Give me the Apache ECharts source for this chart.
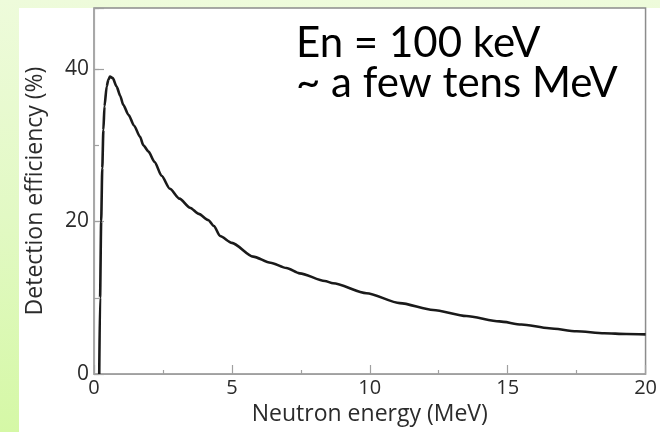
<!DOCTYPE html>
<html>
<head>
<meta charset="utf-8">
<script src="https://cdn.jsdelivr.net/npm/echarts@6/dist/echarts.min.js"></script>
<style>
  html, body { margin: 0; padding: 0; }
  body {
    width: 660px; height: 432px; overflow: hidden; position: relative;
    background: linear-gradient(to bottom, #eefbdb 0%, #e2f9c4 50%, #d5f8a6 100%);
  }
  #panel { position: absolute; left: 19px; top: 8px; right: 0; bottom: 0; background: #ffffff; }
  #chart { position: absolute; left: 0; top: 0; width: 660px; height: 432px; }
</style>
</head>
<body>
<div id="panel"></div>
<div id="chart"></div>
<script>
// Neutron energy (MeV) and detection efficiency (%) along the curve
const energy = [0.19, 0.22, 0.26, 0.30, 0.34, 0.38, 0.46, 0.52, 0.58, 0.68, 0.82, 0.95, 1.06, 1.25, 1.45, 1.67, 1.79, 1.97, 2.2, 2.45, 2.75, 3.1, 3.48, 3.8, 4.14, 4.35, 4.57, 5.0, 5.77, 6.4, 6.98, 7.46, 8.37, 8.67, 9.88, 11.09, 12.3, 13.5, 14.7, 15.5, 16.5, 17.5, 18.5, 19.3, 20];
const efficiency = [0, 10, 20, 27, 32, 35.1, 37.7, 38.6, 39.0, 38.8, 37.7, 36.5, 35.3, 34.0, 32.6, 31.1, 30.0, 29.2, 27.8, 26.0, 24.3, 23.0, 21.8, 21.0, 20.2, 19.4, 18.1, 17.2, 15.4, 14.6, 13.9, 13.2, 12.2, 11.9, 10.6, 9.3, 8.4, 7.6, 6.9, 6.5, 6.0, 5.6, 5.35, 5.25, 5.2];

const xTickLabels = ['0', '5', '10', '15', '20'];
const yTickLabels = ['0', '20', '40'];

const axisFont = 'Open Sans';
const textColor = '#2b2b2b';

const chart = echarts.init(document.getElementById('chart'), null, { renderer: 'canvas' });

chart.setOption({
  backgroundColor: 'transparent',
  animation: false,
  grid: {
    left: 94, right: 14, top: 8, bottom: 58,
    show: true, borderColor: '#8c8c8c', borderWidth: 1.5, backgroundColor: 'transparent'
  },
  xAxis: {
    type: 'value', min: 0, max: 20, interval: 5,
    name: 'Neutron energy (MeV)', nameLocation: 'middle', nameGap: 28,
    nameTextStyle: { fontFamily: axisFont, fontSize: 23, color: textColor },
    axisLine: { show: true, lineStyle: { color: '#a0a0a0', width: 1.2 } },
    axisTick: { show: true, inside: true, length: 9, lineStyle: { color: '#a0a0a0', width: 1.2 } },
    minorTick: { show: true, splitNumber: 2, length: 4, lineStyle: { color: '#a0a0a0', width: 1.2 } },
    splitLine: { show: false },
    axisLabel: {
      fontFamily: axisFont, fontSize: 20, color: textColor, margin: 4,
      formatter: v => xTickLabels.includes(String(v)) ? String(v) : ''
    }
  },
  yAxis: [
    {
      type: 'value', min: 0, max: 48, interval: 20,
      name: 'Detection efficiency (%)', nameLocation: 'middle', nameGap: 47,
      nameTextStyle: { fontFamily: axisFont, fontSize: 23, color: textColor },
      axisLine: { show: true, lineStyle: { color: '#a8a8a8', width: 1.2 } },
      axisTick: { show: true, inside: true, length: 10, lineStyle: { color: '#a0a0a0', width: 1.2 } },
      splitLine: { show: false },
      axisLabel: {
        fontFamily: axisFont, fontSize: 21, color: textColor, margin: 5,
        formatter: v => yTickLabels.includes(String(v)) ? String(v) : ''
      }
    },
    {
      type: 'value', min: 0, max: 48, interval: 10, position: 'left',
      axisLine: { show: false },
      axisTick: { show: true, inside: true, length: 5, lineStyle: { color: '#a0a0a0', width: 1.2 } },
      axisLabel: { show: false },
      splitLine: { show: false }
    }
  ],
  series: [{
    type: 'line',
    data: energy.map((e, i) => [e, efficiency[i]]),
    showSymbol: false,
    smooth: 0.25,
    smoothMonotone: 'x',
    lineStyle: { color: '#1a1a1a', width: 2.6 },
    silent: true
  }],
  graphic: [
    {
      type: 'text', left: 296, top: 22, z: 10,
      style: { text: 'En = 100 keV', fontFamily: 'Lato', fontSize: 42, fill: '#000000' }
    },
    {
      type: 'text', left: 296, top: 62, z: 10,
      style: { text: '~ a few tens MeV', fontFamily: 'Lato', fontSize: 42, fill: '#000000' }
    }
  ]
});
</script>
</body>
</html>
